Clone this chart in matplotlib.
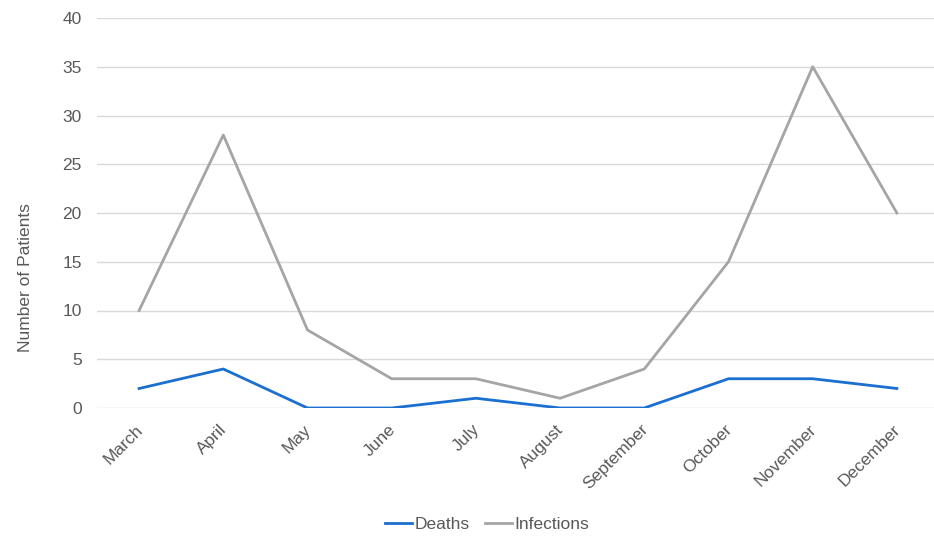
import matplotlib
matplotlib.use("Agg")
import matplotlib.pyplot as plt
from matplotlib.transforms import ScaledTranslation

months = ["March", "April", "May", "June", "July", "August",
          "September", "October", "November", "December"]
deaths = [2, 4, 0, 0, 1, 0, 0, 3, 3, 2]
infections = [10, 28, 8, 3, 3, 1, 4, 15, 35, 20]
y_ticks = [0, 5, 10, 15, 20, 25, 30, 35, 40]

plt.rcParams["font.family"] = ["Liberation Sans", "DejaVu Sans"]
text_color = "#595959"
fs = 12.5

W, H = 934, 539
fig = plt.figure(figsize=(W / 100, H / 100), dpi=100)
left, right, top, bottom = 97, 939, 18, 408
ax = fig.add_axes([left / W, 1 - bottom / H, (right - left) / W, (bottom - top) / H])

x = list(range(len(months)))
ax.plot(x, deaths, color="#1A6FD0", lw=2.0, label="Deaths", solid_joinstyle="round")
ax.plot(x, infections, color="#A5A5A5", lw=2.0, label="Infections", solid_joinstyle="round")

ax.set_xlim(-0.5, len(months) - 0.5)
ax.set_ylim(0, 40)
ax.set_yticks(y_ticks)
ax.set_yticklabels([str(v) for v in y_ticks], fontsize=fs, color=text_color)
ax.grid(axis="y", color="#D9D9D9", lw=1.0)
ax.set_axisbelow(True)
for s in ax.spines.values():
    s.set_visible(False)
ax.tick_params(axis="both", length=0)
ax.tick_params(axis="y", pad=11)

ax.set_xticks(x)
ax.set_xticklabels(months, fontsize=fs, color=text_color, rotation=45,
                   ha="right", va="top", rotation_mode="anchor")
offset = ScaledTranslation(-4 / 100, -9 / 100, fig.dpi_scale_trans)
for lbl in ax.get_xticklabels():
    lbl.set_transform(lbl.get_transform() + offset)

ax.set_ylabel("Number of Patients", fontsize=fs, color=text_color)
ax.yaxis.set_label_coords(33 / W, 1 - 278 / H, transform=fig.transFigure)

leg = ax.legend(loc="center", bbox_to_anchor=(487 / W, 1 - 524 / H), bbox_transform=fig.transFigure,
                ncol=2, frameon=False, fontsize=fs, handlelength=1.55, handletextpad=0.15,
                columnspacing=0.9)
for t in leg.get_texts():
    t.set_color(text_color)

fig.savefig("out.png", dpi=100)
